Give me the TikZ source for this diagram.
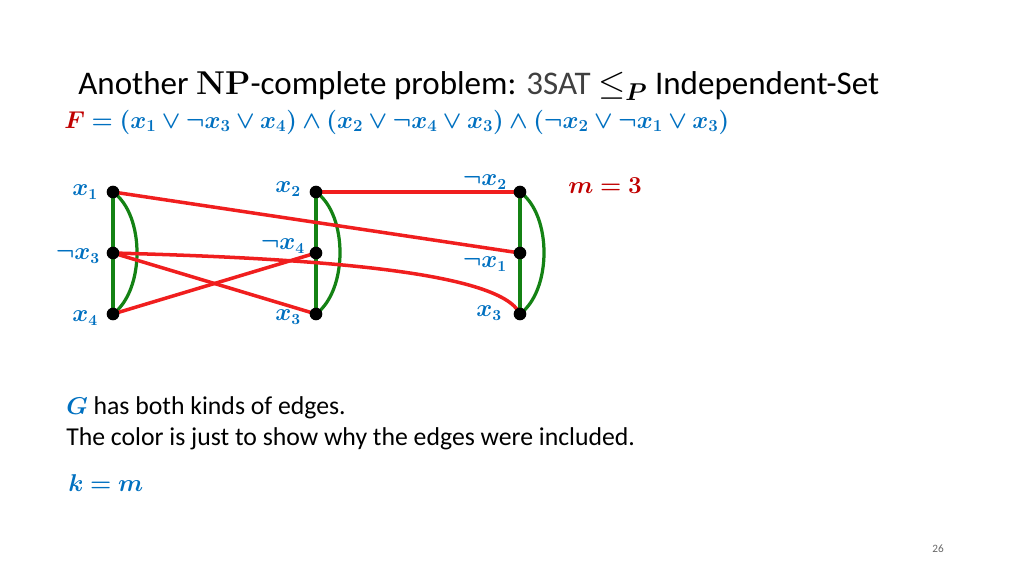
\documentclass[tikz,border=0pt]{standalone}
\usepackage{fontspec}
\usepackage{amsmath,amssymb,bm}
\setmainfont{Carlito}
\newfontfamily\lmr{Latin Modern Roman}
\definecolor{lblue}{RGB}{0,112,192}
\definecolor{dred}{RGB}{192,0,0}
\definecolor{egreen}{RGB}{20,130,20}
\definecolor{ered}{RGB}{240,30,30}
\begin{document}
\begin{tikzpicture}[x=0.025cm,y=-0.025cm,
  vtx/.style={circle,fill=black,inner sep=0pt,minimum size=9pt},
  lab/.style={text=lblue,font=\fontsize{16}{18}\selectfont},
  gedge/.style={egreen,line width=2.3pt},
  redge/.style={ered,line width=2.5pt}]
\useasboundingbox (0,0) rectangle (1024,576);
\node[anchor=west,inner sep=0pt,font=\fontsize{23.5}{26}\selectfont] (title) at (78,86) {Another {\lmr\bfseries NP}-complete problem: {\color{black!75}3SAT} $\le_{\bm{P}}$ Independent-Set};
\node[anchor=west,inner sep=0pt,text=lblue,font=\fontsize{17}{20}\selectfont] (F) at (64,122) {$\bm{{\color{dred}F}=(x_1\vee\neg x_3\vee x_4)\wedge(x_2\vee\neg x_4\vee x_3)\wedge(\neg x_2\vee\neg x_1\vee x_3)}$};
\foreach \n/\x/\y in {a1/113/192,a2/113/253,a3/113/314,b1/316/192,b2/316/253,b3/316/314,c1/520/192,c2/520/253,c3/520/314}
  \coordinate (\n) at (\x,\y);
% green
\draw[gedge] (a1)--(a3) (b1)--(b3) (c1)--(c3);
\draw[gedge] (a1) .. controls (145,215) and (145,290) .. (a3);
\draw[gedge] (b1) .. controls (348,215) and (348,290) .. (b3);
\draw[gedge] (c1) .. controls (552,215) and (552,290) .. (c3);
% red
\draw[redge] (a1)--(c2);
\draw[redge] (b1)--(c1);
\draw[redge] (a2)--(b3);
\draw[redge] (a3)--(b2);
\draw[redge] (a2) .. controls (300,258) and (500,270) .. (c3);
\foreach \n in {a1,a2,a3,b1,b2,b3,c1,c2,c3} \node[vtx] (v\n) at (\n) {};
\node[lab,anchor=east] (la1) at (103,192) {$\bm{x_1}$};
\node[lab,anchor=east] (la2) at (105,256) {$\bm{\neg x_3}$};
\node[lab,anchor=east] (la3) at (103,318) {$\bm{x_4}$};
\node[lab,anchor=east] (lb1) at (306,189) {$\bm{x_2}$};
\node[lab,anchor=east] (lb2) at (310,246) {$\bm{\neg x_4}$};
\node[lab,anchor=east] (lb3) at (306,317) {$\bm{x_3}$};
\node[lab,anchor=east] (lc1) at (512,182) {$\bm{\neg x_2}$};
\node[lab,anchor=east] (lc2) at (512,264) {$\bm{\neg x_1}$};
\node[lab,anchor=east] (lc3) at (507,313) {$\bm{x_3}$};
\node[text=dred,font=\fontsize{18}{20}\selectfont] (m) at (605,186) {$\bm{m=3}$};
\node[anchor=west,inner sep=0pt,font=\fontsize{18.3}{20}\selectfont] (t1) at (66,408) {{\color{lblue}$\bm{G}$} has both kinds of edges.};
\node[anchor=west,inner sep=0pt,font=\fontsize{18.3}{20}\selectfont] (t2) at (66,439) {The color is just to show why the edges were included.};
\node[anchor=west,inner sep=0pt,text=lblue,font=\fontsize{18}{20}\selectfont] (k) at (68,483) {$\bm{k=m}$};
\node[text=black!60,font=\fontsize{8}{10}\selectfont] (pg) at (938,549) {26};
\end{tikzpicture}
\end{document}
